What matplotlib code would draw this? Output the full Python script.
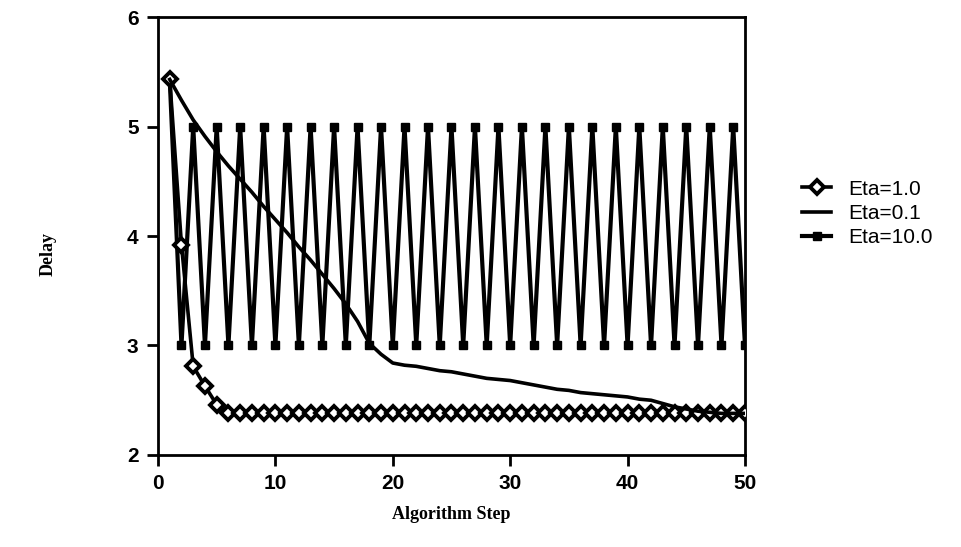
import matplotlib
matplotlib.use("Agg")
import matplotlib.pyplot as plt
import numpy as np

steps = np.arange(1, 51)

eta_1 = [5.43, 3.92, 2.81, 2.63, 2.46] + [2.38] * 45

eta_01 = [5.43, 5.24, 5.06, 4.91, 4.77, 4.64, 4.52, 4.40, 4.27, 4.15,
          4.03, 3.90, 3.78, 3.65, 3.52, 3.38, 3.22, 3.02, 2.92, 2.84,
          2.82, 2.81, 2.79, 2.77, 2.76, 2.74, 2.72, 2.70, 2.69, 2.68,
          2.66, 2.64, 2.62, 2.60, 2.59, 2.57, 2.56, 2.55, 2.54, 2.53,
          2.51, 2.50, 2.47, 2.44, 2.42, 2.40, 2.39, 2.38, 2.38, 2.38]

eta_10 = [5.43] + [3.0 if s % 2 == 0 else 5.0 for s in range(2, 51)]

x_ticks = [0, 10, 20, 30, 40, 50]
y_ticks = [2, 3, 4, 5, 6]

fig = plt.figure(figsize=(9.61, 5.47), dpi=100)
ax = fig.add_axes([0.1644, 0.1682, 0.6108, 0.8007])

ax.plot(steps, eta_10, color="black", lw=3.0, marker="s", ms=6,
        mfc="black", mec="black", label="Eta=10.0", zorder=2)
ax.plot(steps, eta_1, color="black", lw=2.6, marker="D", ms=7,
        mfc="white", mec="black", mew=2.8, label="Eta=1.0", zorder=3)
ax.plot(steps, eta_01, color="black", lw=2.6, label="Eta=0.1", zorder=4)

ax.set_xlim(0, 50)
ax.set_ylim(2, 6)
ax.set_xticks(x_ticks)
ax.set_yticks(y_ticks)
for s in ax.spines.values():
    s.set_linewidth(2)
ax.tick_params(direction="out", length=8, width=2, pad=6)
for lab in ax.get_xticklabels() + ax.get_yticklabels():
    lab.set_family("Liberation Sans")
    lab.set_fontweight("bold")
    lab.set_fontsize(15)

ax.set_xlabel("Algorithm Step", family="Liberation Serif", fontweight="bold",
              fontsize=13, labelpad=9)
fig.text(0.05, 0.535, "Delay", family="Liberation Serif", fontweight="bold",
         fontsize=13, rotation=90, ha="center", va="center")

handles, labels = ax.get_legend_handles_labels()
order = [1, 2, 0]
leg = fig.legend([handles[i] for i in order], [labels[i] for i in order],
                 loc="center left", bbox_to_anchor=(0.815, 0.61), frameon=False,
                 prop={"family": "Liberation Sans", "size": 15},
                 handlelength=1.4, handletextpad=0.8, labelspacing=0.25)

fig.savefig("out.png", dpi=100)
